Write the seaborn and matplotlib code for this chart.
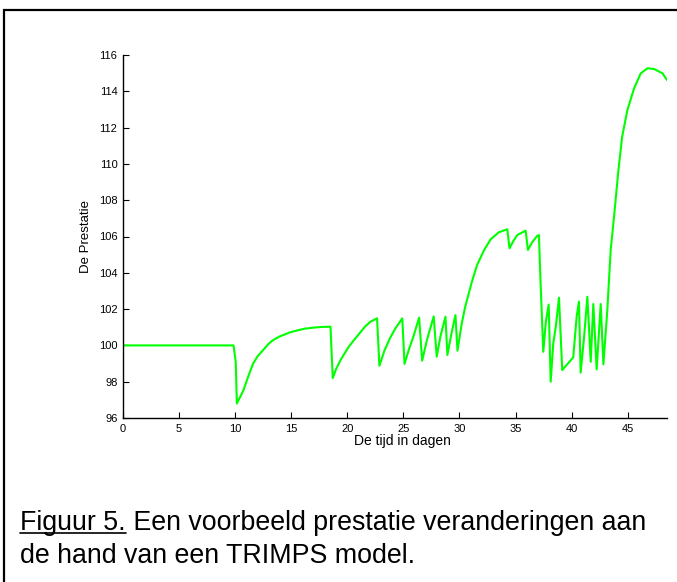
import matplotlib
matplotlib.use("Agg")
import matplotlib.pyplot as plt
import seaborn as sns
import pandas as pd
from matplotlib.patches import Rectangle
from matplotlib.lines import Line2D

# ---- data ----
days = [0.0, 9.85, 10.05, 10.15, 10.4, 10.75, 11.2, 11.6, 12.0, 12.5, 13.0, 13.4,
        14.0, 14.9, 15.5, 16.2, 17.0, 17.8, 18.5, 18.7, 19.0, 19.4, 20.1, 20.6,
        21.2, 21.6, 22.05, 22.65, 22.86, 23.3, 23.8, 24.3, 24.9, 25.1, 25.5, 25.9,
        26.4, 26.67, 27.1, 27.7, 27.97, 28.3, 28.75, 28.92, 29.3, 29.64, 29.82,
        30.2, 30.5, 31.1, 31.57, 32.2, 32.77, 33.5, 34.26, 34.46, 34.8, 35.15,
        35.9, 36.1, 36.5, 36.93, 37.08, 37.23, 37.47, 37.7, 37.95, 38.13, 38.36,
        38.6, 38.87, 39.16, 40.14, 40.45, 40.65, 40.8, 41.1, 41.4, 41.7, 41.93,
        42.23, 42.59, 42.83, 43.18, 43.48, 43.78, 44.14, 44.5, 44.97, 45.57,
        46.16, 46.76, 47.35, 48.1, 48.5]
prestatie = [100.0, 100.0, 99.1, 96.8, 97.1, 97.55, 98.35, 99.0, 99.4, 99.75, 100.1, 100.3,
             100.5, 100.72, 100.82, 100.92, 100.98, 101.02, 101.03, 98.2, 98.7, 99.2, 99.9, 100.3,
             100.75, 101.05, 101.3, 101.49, 98.88, 99.7, 100.4, 100.95, 101.49, 98.98, 99.8, 100.5,
             101.53, 99.16, 100.3, 101.6, 99.38, 100.5, 101.58, 99.47, 100.7, 101.67, 99.71,
             101.2, 102.1, 103.5, 104.43, 105.26, 105.84, 106.23, 106.4, 105.35, 105.75, 106.08,
             106.32, 105.26, 105.7, 106.03, 106.08, 103.42, 99.65, 101.3, 102.25, 98.0, 100.1,
             101.1, 102.63, 98.64, 99.34, 101.6, 102.41, 98.5, 100.4, 102.68, 99.1, 102.28,
             98.68, 102.28, 98.96, 101.95, 105.26, 107.09, 109.48, 111.5, 112.97, 114.17,
             114.99, 115.27, 115.23, 114.99, 114.62]
x_ticks = [0, 5, 10, 15, 20, 25, 30, 35, 40, 45]
y_ticks = [96, 98, 100, 102, 104, 106, 108, 110, 112, 114, 116]
x_label = "De tijd in dagen"
y_label = "De Prestatie"
caption_lead = "Figuur 5."
caption_rest = " Een voorbeeld prestatie veranderingen aan"
caption_line2 = "de hand van een TRIMPS model."

df = pd.DataFrame({"dag": days, "prestatie": prestatie})

sns.set_style("white")
plt.rcParams["font.family"] = ["Liberation Sans", "DejaVu Sans"]
plt.rcParams["text.color"] = "black"
plt.rcParams["axes.labelcolor"] = "black"
plt.rcParams["xtick.color"] = "black"
plt.rcParams["ytick.color"] = "black"

W, H = 677, 582
fig = plt.figure(figsize=(W / 100, H / 100), dpi=100)
ax = fig.add_axes([123 / W, 1 - 418 / H, (667 - 123) / W, (418 - 55) / H])

sns.lineplot(data=df, x="dag", y="prestatie", ax=ax, color="#00ff00",
             linewidth=1.5, estimator=None, sort=False)

ax.set_xlim(0, 48.5)
ax.set_ylim(96, 116)
ax.set_xticks(x_ticks)
ax.set_yticks(y_ticks)
ax.tick_params(bottom=True, left=True, direction="in", length=4, width=0.8,
               labelsize=8, pad=4, colors="black")
for s in ["top", "right"]:
    ax.spines[s].set_visible(False)
for s in ["left", "bottom"]:
    ax.spines[s].set_color("black")
    ax.spines[s].set_linewidth(1.0)
ax.set_xlabel(x_label, fontsize=10, labelpad=0, color="black")
ax.xaxis.set_label_coords((402 - 123) / 544, -0.045)
ax.set_ylabel(y_label, fontsize=9.5, labelpad=5, color="black")

# outer frame (top and left edges visible)
fig.patches.append(Rectangle((4 / W, -0.1), 1.2, (1 - 10 / H) + 0.1, fill=False,
                             edgecolor="black", linewidth=1.6,
                             transform=fig.transFigure, figure=fig))

# caption
cap_fs = 19.3
x0 = 20 / W
y1 = 1 - 530 / H
y2 = 1 - 563 / H
t1 = fig.text(x0, y1, caption_lead, fontsize=cap_fs, va="baseline", ha="left",
              color="black")
fig.canvas.draw()
r = fig.canvas.get_renderer()
bb = t1.get_window_extent(renderer=r)
fig.text(bb.x1 / W, y1, caption_rest, fontsize=cap_fs, va="baseline", ha="left",
         color="black")
uy = y1 - 3 / H
fig.lines.append(Line2D([bb.x0 / W, bb.x1 / W], [uy, uy], color="black",
                        linewidth=1.2, transform=fig.transFigure, figure=fig))
fig.text(x0, y2, caption_line2, fontsize=cap_fs, va="baseline", ha="left",
         color="black")

fig.savefig("out.png", dpi=100, facecolor="white")
